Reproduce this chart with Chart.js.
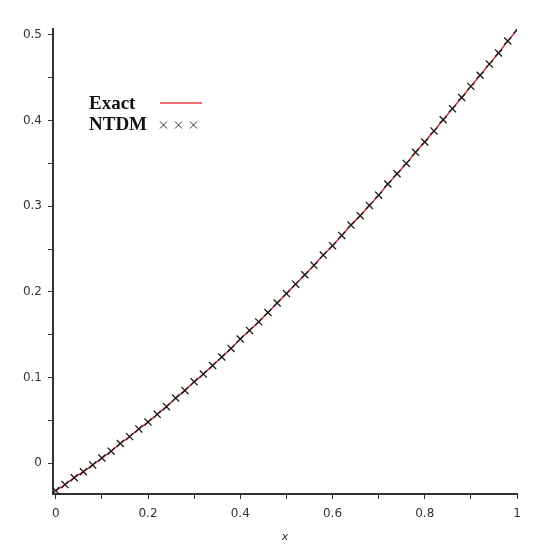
<!DOCTYPE html>
<html>
<head>
<meta charset="utf-8">
<script src="https://cdn.jsdelivr.net/npm/chart.js@4/dist/chart.umd.min.js"></script>
<style>
  html, body { margin: 0; padding: 0; background: #fff; }
  canvas { display: block; }
</style>
</head>
<body>
<canvas id="chart" width="542" height="550"></canvas>
<script>
// x positions of the sampled points
const xValues = [0, 0.02, 0.04, 0.06, 0.08, 0.1, 0.12, 0.14, 0.16, 0.18,
  0.2, 0.22, 0.24, 0.26, 0.28, 0.3, 0.32, 0.34, 0.36, 0.38,
  0.4, 0.42, 0.44, 0.46, 0.48, 0.5, 0.52, 0.54, 0.56, 0.58,
  0.6, 0.62, 0.64, 0.66, 0.68, 0.7, 0.72, 0.74, 0.76, 0.78,
  0.8, 0.82, 0.84, 0.86, 0.88, 0.9, 0.92, 0.94, 0.96, 0.98, 1];

// values (both curves sit on top of each other)
const exactValues = [-0.032, -0.025, -0.017, -0.010, -0.002, 0.006, 0.014, 0.023, 0.031, 0.040,
  0.048, 0.057, 0.066, 0.076, 0.085, 0.095, 0.104, 0.114, 0.124, 0.134,
  0.145, 0.155, 0.165, 0.176, 0.187, 0.198, 0.209, 0.220, 0.231, 0.243,
  0.254, 0.266, 0.278, 0.289, 0.301, 0.313, 0.326, 0.338, 0.350, 0.363,
  0.375, 0.388, 0.401, 0.414, 0.427, 0.440, 0.453, 0.466, 0.479, 0.493, 0.506];
const ntdmValues = exactValues.slice();

const xTicks = [0, 0.1, 0.2, 0.3, 0.4, 0.5, 0.6, 0.7, 0.8, 0.9, 1];
const yTicks = [0, 0.05, 0.1, 0.15, 0.2, 0.25, 0.3, 0.35, 0.4, 0.45, 0.5];

const seriesNames = ['Exact', 'NTDM'];

const toPts = ys => xValues.map((x, i) => ({ x: x, y: ys[i] }));
const isMajor = (v, step) => Math.abs(v / step - Math.round(v / step)) < 1e-6;

// legend drawn at the top-left like the original
const legendPlugin = {
  id: 'maplelegend',
  afterDraw(chart) {
    const c = chart.ctx;
    const ds = chart.data.datasets;
    c.save();
    c.font = 'bold 19px "Liberation Serif", "Times New Roman", serif';
    c.fillStyle = '#111';
    c.textBaseline = 'middle';
    c.textAlign = 'left';
    c.fillText(ds[0].label, 89, 104);
    c.fillText(ds[1].label, 89, 125);
    // red line sample
    c.strokeStyle = '#e03c46';
    c.lineWidth = 1.5;
    c.beginPath();
    c.moveTo(160, 103);
    c.lineTo(202, 103);
    c.stroke();
    // cross samples
    c.strokeStyle = '#333';
    c.lineWidth = 1;
    [163.5, 178.5, 193.5].forEach(cx => {
      const r = 3.5;
      c.beginPath();
      c.moveTo(cx - r, 125 - r); c.lineTo(cx + r, 125 + r);
      c.moveTo(cx + r, 125 - r); c.lineTo(cx - r, 125 + r);
      c.stroke();
    });
    c.restore();
  }
};

new Chart(document.getElementById('chart'), {
  type: 'scatter',
  data: {
    datasets: [
      {
        label: seriesNames[0],
        data: toPts(exactValues),
        showLine: true,
        borderColor: '#c8323a',
        borderWidth: 1.5,
        pointRadius: 0,
        tension: 0,
        order: 2
      },
      {
        label: seriesNames[1],
        data: toPts(ntdmValues),
        showLine: false,
        pointStyle: 'crossRot',
        pointRadius: 5,
        pointBorderColor: '#1a1a1a',
        pointBorderWidth: 1.3,
        order: 1
      }
    ]
  },
  options: {
    responsive: false,
    animation: false,
    devicePixelRatio: 1,
    layout: { padding: { top: 29, right: 25, left: 0, bottom: 0 } },
    plugins: { legend: { display: false }, tooltip: { enabled: false } },
    scales: {
      x: {
        type: 'linear',
        min: -0.006,
        max: 1,
        afterBuildTicks: s => { s.ticks = xTicks.map(v => ({ value: v })); },
        afterFit: s => { s.height = 56; },
        ticks: {
          autoSkip: false,
          maxRotation: 0,
          padding: 8,
          color: '#333',
          font: { family: '"DejaVu Sans", sans-serif', size: 12 },
          callback: v => isMajor(v, 0.2) ? String(+v.toFixed(1)) : ''
        },
        grid: { drawOnChartArea: false, drawTicks: true, tickLength: 5, color: '#333', tickWidth: 1 },
        border: { display: true, color: '#333', width: 2 },
        title: {
          display: true,
          text: 'x',
          color: '#333',
          font: { family: '"DejaVu Sans", sans-serif', size: 11, style: 'italic' },
          padding: { top: 0, bottom: 6 }
        }
      },
      y: {
        type: 'linear',
        min: -0.036,
        max: 0.507,
        afterBuildTicks: s => { s.ticks = yTicks.map(v => ({ value: v })); },
        afterFit: s => { s.width = 53; },
        ticks: {
          autoSkip: false,
          padding: 6,
          color: '#333',
          font: { family: '"DejaVu Sans", sans-serif', size: 12 },
          callback: v => isMajor(v, 0.1) ? String(+v.toFixed(1)) : ''
        },
        grid: { drawOnChartArea: false, drawTicks: true, tickLength: 5, color: '#333', tickWidth: 1 },
        border: { display: true, color: '#333', width: 2 }
      }
    }
  },
  plugins: [legendPlugin]
});
</script>
</body>
</html>
